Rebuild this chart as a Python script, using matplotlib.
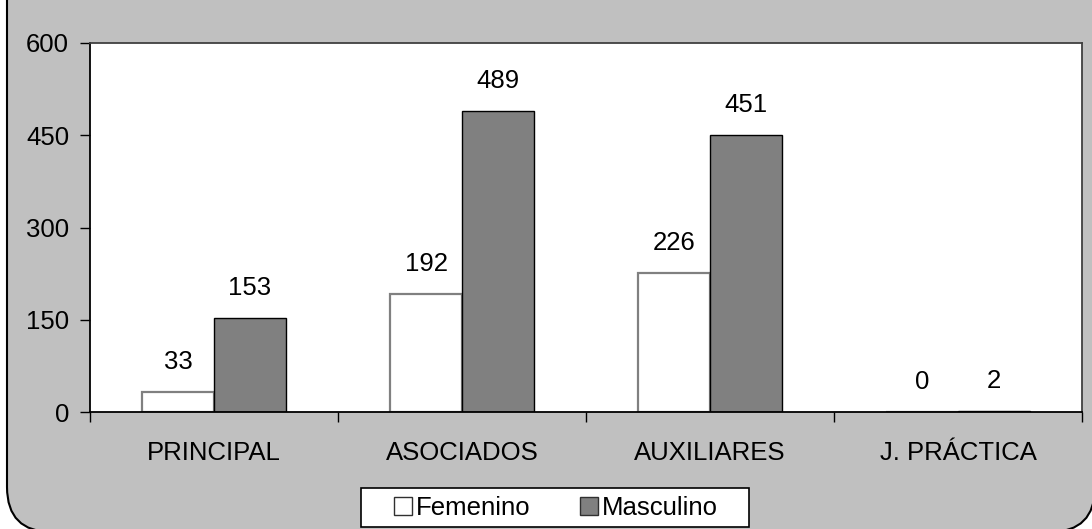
import matplotlib.pyplot as plt
import numpy as np
from matplotlib.patches import FancyBboxPatch, Patch, Rectangle

categories = ["PRINCIPAL", "ASOCIADOS", "AUXILIARES", "J. PRÁCTICA"]
femenino = [33, 192, 226, 0]
masculino = [153, 489, 451, 2]
yticks = [0, 150, 300, 450, 600]

plt.rcParams['font.family'] = ['Liberation Sans', 'DejaVu Sans']
FS = 18.5

fig = plt.figure(figsize=(10.92, 5.29), dpi=100, facecolor='white')

# rounded gray frame drawn in pixel coordinates
frame = FancyBboxPatch((7, -3), 1088, 700, boxstyle="round,pad=0,rounding_size=45",
                       transform=None, facecolor='#C0C0C0', edgecolor='black', linewidth=1.5,
                       zorder=-10)
fig.patches.append(frame)

ax = fig.add_axes([90 / 1092, 117 / 529, 992 / 1092, 369 / 529])
ax.set_facecolor('white')

x = np.arange(len(categories))
w = 0.29
b1 = ax.bar(x - w / 2, femenino, w, facecolor='white', edgecolor='#808080', linewidth=1.6)
b2 = ax.bar(x + w / 2, masculino, w, facecolor='#808080', edgecolor='black', linewidth=1.0)

for bars, vals in ((b1, femenino), (b2, masculino)):
    for rect, v in zip(bars, vals):
        ax.annotate(str(v), (rect.get_x() + rect.get_width() / 2, v),
                    xytext=(0, 13), textcoords='offset points',
                    ha='center', va='bottom', fontsize=FS)

ax.set_xlim(-0.5, 3.5)
ax.set_ylim(0, 600)
ax.set_yticks(yticks)
ax.set_yticklabels([str(t) for t in yticks], fontsize=FS)
ax.set_xticks(np.arange(-0.5, 4.0, 1.0))
ax.set_xticklabels([])
ax.set_xticks(x, minor=True)
ax.set_xticklabels(categories, minor=True, fontsize=FS)
ax.tick_params(axis='x', which='major', direction='out', length=7, width=1.0, color='black')
ax.tick_params(axis='x', which='minor', length=0, pad=21)
ax.tick_params(axis='y', direction='out', length=7, width=1.0, pad=8)

ax.spines['left'].set_color('black')
ax.spines['bottom'].set_color('black')
ax.spines['top'].set_color('#404040')
ax.spines['right'].set_color('#404040')
for s in ax.spines.values():
    s.set_linewidth(1.3)

# legend box
fig.patches.append(Rectangle((361, 2), 388, 39, transform=None, facecolor='white',
                             edgecolor='black', linewidth=1.2, zorder=5))
handles = [Patch(facecolor='white', edgecolor='#303030', linewidth=1.0),
           Patch(facecolor='#808080', edgecolor='#303030', linewidth=1.0)]
leg = fig.legend(handles, ["Femenino", "Masculino"], loc='center',
                 bbox_to_anchor=(556 / 1092, 21 / 529), ncol=2, fontsize=FS,
                 frameon=False, handlelength=0.7, handleheight=0.7,
                 handletextpad=0.15, columnspacing=1.9, borderpad=0.2)
leg.set_zorder(6)

fig.savefig("out.png", dpi=100, facecolor='white')
